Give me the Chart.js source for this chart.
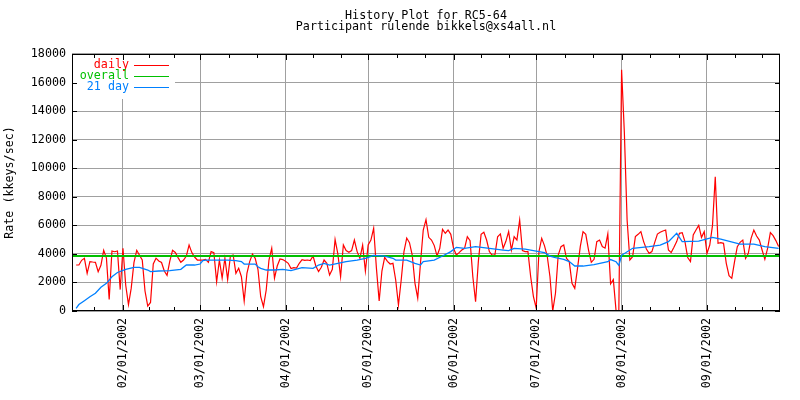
<!DOCTYPE html>
<html>
<head>
<meta charset="utf-8">
<title>History Plot for RC5-64</title>
<script src="https://cdn.jsdelivr.net/npm/chart.js@4.4.1/dist/chart.umd.min.js"></script>
<style>
  html, body { margin: 0; padding: 0; background: #fff; }
  #wrap { width: 800px; height: 400px; }
</style>
</head>
<body>
<div id="wrap"><canvas id="historyChart"></canvas></div>
<script>
// day numbers: 1 Jan 2002 = 0
const firstDay = 14;
const daily = [
  3220, 3220, 3550, 3690, 2640, 3460, 3430, 3410, 2750, 3200, 4250, 3700, 800, 4200, 4150, 4200, 1500, 4400, 1800, 450,
  1600, 3400, 4250, 3900, 3570, 1400, 350, 600, 3300, 3700, 3500, 3400, 2800, 2500, 3500, 4250, 4100,
  3740, 3410, 3570, 3850, 4620, 4090, 3780, 3570, 3570, 3570, 3620, 3410, 4160, 4090, 2050, 3570, 2300, 3700, 2200, 3850,
  3920, 2640, 2990, 2400, 700, 2640, 3460, 3990, 3690, 2920, 1000, 300, 1470, 3570, 4400, 2300,
  3150, 3640, 3600, 3480, 3340, 2970, 3040, 3010, 3340, 3600, 3550, 3570, 3530, 3850, 3150, 2760, 3060, 3570, 3340, 2520,
  2920, 5000, 4000, 2400, 4620, 4230, 4110, 4230, 4970, 4160, 3690, 4620, 2800, 4620, 4970, 5790, 3000,
  700, 2800, 3760, 3480, 3290, 3340, 2170, 420, 2170, 4160, 5110, 4790, 3920, 1940, 900, 3340, 5670, 6400, 5160, 4970,
  4580, 3850, 4390, 5720, 5440, 5670, 5370, 4390, 3920, 4090, 4270, 4390, 5210, 4930, 2400, 650,
  3460, 5370, 5510, 4970, 4160, 3920, 3920, 5200, 5400, 4390, 4880, 5560, 4270, 5210, 4970, 6370, 4230, 4160, 4160, 2400,
  1000, 200, 4160, 5090, 4580, 3850, 2400, 0, 1240, 3920, 4510, 4620, 3690, 3460, 1940, 1590,
  2990, 4510, 5560, 5370, 4270, 3410, 3620, 4860, 4970, 4510, 4400, 5400, 1900, 2200, 0, 0, 16900, 12500, 6370, 3570,
  3800, 5210, 5370, 5560, 4860, 4340, 4040, 4160, 4790, 5390, 5510, 5600, 5670, 4270, 4090, 4460,
  4860, 5440, 5490, 4860, 3740, 3460, 5320, 5670, 6000, 5160, 5560, 4040, 4620, 6000, 9400, 4740, 4790, 4740, 3340, 2480,
  2290, 3460, 4510, 4810, 4970, 3690, 4040, 5090, 5670, 5250, 4970, 4270, 3620, 4390, 5490, 5280, 4930, 4510
];
const avgDays = [
  14, 15, 17, 19, 21, 23, 25, 27, 29, 32, 35, 37, 40, 41, 44, 48, 52, 54, 57, 59,
  60, 61, 65, 69, 72, 74, 75, 79, 80, 81, 83, 86, 89, 92, 96, 100, 102, 104, 106, 109,
  112, 116, 119, 122, 126, 129, 130, 134, 137, 139, 140, 144, 147, 150, 152, 155, 159, 164, 169, 171,
  173, 177, 180, 182, 184, 186, 188, 191, 193, 195, 198, 202, 207, 208, 210, 211, 212, 216, 222, 226,
  229, 232, 234, 240, 245, 248, 255, 260, 264, 269
];
const avgValues = [
  190, 450, 720, 1000, 1240, 1660, 1940, 2400, 2700, 2920, 3060, 3060, 2870, 2760, 2800, 2830, 2920, 3220, 3220, 3290,
  3530, 3570, 3570, 3570, 3530, 3460, 3290, 3290, 3100, 2990, 2870, 2870, 2920, 2830, 3040, 2990, 3220, 3340, 3220, 3340,
  3460, 3570, 3690, 3900, 3850, 3690, 3570, 3570, 3340, 3220, 3460, 3570, 3850, 4160, 4460, 4390, 4510, 4390, 4270, 4230,
  4390, 4330, 4230, 4160, 4090, 3850, 3740, 3620, 3460, 3150, 3150, 3250, 3450, 3600, 3450, 3200, 3900, 4390, 4510, 4620,
  4860, 5440, 4860, 4900, 5160, 5040, 4690, 4690, 4510, 4390
];
const overallValue = 3850;
const monthDays = [31, 59, 90, 120, 151, 181, 212, 243];
const monthLabels = ['02/01/2002', '03/01/2002', '04/01/2002', '05/01/2002', '06/01/2002', '07/01/2002', '08/01/2002', '09/01/2002'];
const xMin = 12.5, xMax = 269.5;

const FONT = "'DejaVu Sans Mono', 'Liberation Mono', monospace";
const GRID = '#a0a0a0';

// minor ticks: thirds of each month, plus the edges
const edges = [0].concat(monthDays, [273]);
const xTickValues = [];
for (let i = 0; i < edges.length - 1; i++) {
  const step = (edges[i + 1] - edges[i]) / 3;
  for (let k = 0; k < 3; k++) {
    const v = edges[i] + k * step;
    if (v >= xMin && v <= xMax) xTickValues.push(v);
  }
}

// black inward ticks and the frame, gnuplot style
const frameTicks = {
  id: 'frameTicks',
  afterDraw(chart) {
    const {ctx, chartArea: a, scales: {x, y}} = chart;
    ctx.save();
    ctx.strokeStyle = '#000';
    ctx.lineWidth = 1;
    ctx.beginPath();
    x.ticks.forEach(t => {
      const px = Math.round(x.getPixelForValue(t.value)) + 0.5;
      const len = monthDays.includes(t.value) ? 6 : 4;
      ctx.moveTo(px, a.bottom); ctx.lineTo(px, a.bottom - len);
      ctx.moveTo(px, a.top); ctx.lineTo(px, a.top + len);
    });
    y.ticks.forEach(t => {
      const py = Math.round(y.getPixelForValue(t.value)) + 0.5;
      ctx.moveTo(a.left, py); ctx.lineTo(a.left + 5, py);
      ctx.moveTo(a.right, py); ctx.lineTo(a.right - 5, py);
    });
    ctx.stroke();
    ctx.strokeRect(Math.round(a.left) + 0.5, Math.round(a.top) + 0.5,
                   Math.round(a.width) - 1, Math.round(a.height) - 1);
    ctx.restore();
  }
};

// key in the top left corner: text right aligned, line sample after it
const insideKey = {
  id: 'insideKey',
  afterDatasetsDraw(chart) {
    const {ctx, chartArea: a} = chart;
    ctx.save();
    ctx.fillStyle = '#fff';
    ctx.fillRect(a.left + 1, a.top + 1, 102, 44);
    ctx.font = '11.7px ' + FONT;
    ctx.textAlign = 'right';
    ctx.textBaseline = 'middle';
    chart.data.datasets.forEach((ds, i) => {
      const yy = a.top + 11 + i * 11;
      ctx.fillStyle = ds.borderColor;
      ctx.fillText(ds.label, a.left + 57, yy);
      ctx.strokeStyle = ds.borderColor;
      ctx.lineWidth = 1;
      ctx.beginPath();
      ctx.moveTo(a.left + 62, Math.round(yy) + 0.5);
      ctx.lineTo(a.left + 97, Math.round(yy) + 0.5);
      ctx.stroke();
    });
    ctx.restore();
  }
};

new Chart(document.getElementById('historyChart'), {
  type: 'line',
  data: {
    datasets: [
      {
        label: 'daily',
        data: daily.map((v, i) => ({x: firstDay + i, y: v})),
        borderColor: '#ff0000',
        borderWidth: 1.2,
        order: 3
      },
      {
        label: 'overall',
        data: [{x: xMin, y: overallValue}, {x: xMax, y: overallValue}],
        borderColor: '#00c000',
        borderWidth: 2,
        order: 2
      },
      {
        label: '21 day',
        data: avgDays.map((d, i) => ({x: d, y: avgValues[i]})),
        borderColor: '#0080ff',
        borderWidth: 1.3,
        order: 1
      }
    ]
  },
  options: {
    responsive: true,
    maintainAspectRatio: false,
    animation: false,
    elements: { point: { radius: 0 }, line: { tension: 0 } },
    layout: { padding: { left: 0, right: 20, top: 10, bottom: 0 } },
    plugins: {
      legend: { display: false },
      tooltip: { enabled: false },
      title: {
        display: true,
        fullSize: false,
        text: ['History Plot for RC5-64', 'Participant rulende bikkels@xs4all.nl'],
        color: '#000',
        font: { family: FONT, size: 11.7, weight: 'normal', lineHeight: 0.94 },
        padding: { top: 0, bottom: 22 }
      }
    },
    scales: {
      x: {
        type: 'linear',
        min: xMin,
        max: xMax,
        afterBuildTicks: s => { s.ticks = xTickValues.map(v => ({value: v})); },
        afterFit: s => { s.height = 89; },
        grid: {
          color: c => (c.tick && monthDays.includes(c.tick.value)) ? GRID : 'rgba(0,0,0,0)',
          drawTicks: false,
          lineWidth: 1
        },
        border: { display: false },
        ticks: {
          autoSkip: false,
          minRotation: 90,
          maxRotation: 90,
          padding: 7,
          color: '#000',
          font: { family: FONT, size: 11.7 },
          callback: v => {
            const i = monthDays.indexOf(v);
            return i >= 0 ? monthLabels[i] : '';
          }
        }
      },
      y: {
        min: 0,
        max: 18000,
        afterFit: s => { s.width = 72; },
        grid: { color: GRID, drawTicks: false, lineWidth: 1 },
        border: { display: false },
        ticks: {
          stepSize: 2000,
          padding: 6,
          color: '#000',
          font: { family: FONT, size: 11.7 },
          callback: v => String(v)
        },
        title: {
          display: true,
          text: 'Rate (kkeys/sec)',
          color: '#000',
          font: { family: FONT, size: 11.7 },
          padding: { top: 3, bottom: 0 }
        }
      }
    }
  },
  plugins: [insideKey, frameTicks]
});
</script>
</body>
</html>
